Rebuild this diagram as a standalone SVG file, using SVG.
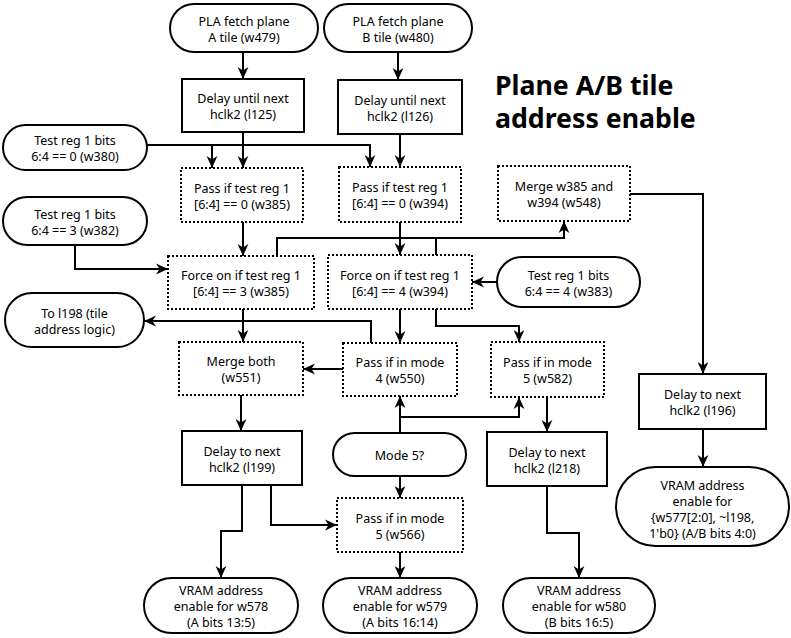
<svg xmlns="http://www.w3.org/2000/svg" width="791" height="638" viewBox="0 0 791 638">
<defs>
<marker id="ah" viewBox="0 0 10 10" refX="10" refY="5" markerWidth="12" markerHeight="12" markerUnits="userSpaceOnUse" orient="auto">
<path d="M0,0.5 L10,5 L0,9.5 L3,5 z" fill="#000"/>
</marker>
<style>
.s{fill:#fff;stroke:#000;stroke-width:2}
.d{fill:#fff;stroke:#000;stroke-width:2;stroke-dasharray:2 2}
.c{fill:none;stroke:#000;stroke-width:2;marker-end:url(#ah)}
.l{fill:none;stroke:#000;stroke-width:2}
text{font-family:"Noto Sans","Open Sans","DejaVu Sans",sans-serif;font-size:12.5px;fill:#000;text-anchor:middle}
.t{font-size:26.7px;font-weight:bold;text-anchor:start}
</style>
</defs>
<rect width="791" height="638" fill="#fff"/>
<text class="t" x="495" y="95">Plane A/B tile</text>
<text class="t" x="495" y="128">address enable</text>

<g id="connectors">
<path class="c" d="M243,52 V79"/>
<path class="c" d="M398,52 V80"/>
<path class="c" d="M147,145 H370 V167"/>
<path class="c" d="M212,145 V168"/>
<path class="c" d="M243,132 V168"/>
<path class="c" d="M400,134 V167"/>
<path class="c" d="M243,222 V256"/>
<path class="c" d="M75,245 V269 H168"/>
<path class="c" d="M400,222 V255"/>
<path class="c" d="M277,256 V238 H564 V221"/>
<path class="l" d="M436,255 V238"/>
<path class="c" d="M497,282 H472"/>
<path class="c" d="M243,309 V342"/>
<path class="c" d="M371,343 V321 H144"/>
<path class="c" d="M400,309 V343"/>
<path class="c" d="M436,309 V326 H519 V342"/>
<path class="c" d="M343,369 H303"/>
<path class="c" d="M400,433 V396"/>
<path class="c" d="M400,417 H519 V397"/>
<path class="c" d="M400,476 V498"/>
<path class="c" d="M241,395 V431"/>
<path class="c" d="M242,485 V531 H221 V578"/>
<path class="c" d="M271,485 V525 H337"/>
<path class="c" d="M400,552 V578"/>
<path class="c" d="M547,397 V432"/>
<path class="c" d="M547,486 V533 H579 V578"/>
<path class="c" d="M630,194 H703 V374"/>
<path class="c" d="M703,429 V467"/>
</g>

<g id="n_plaA"><rect class="s" x="170" y="4" width="148" height="48" rx="24"/><text x="244" y="25.9">PLA fetch plane</text><text x="244" y="41.9">A tile (w479)</text></g>
<g id="n_plaB"><rect class="s" x="324" y="4" width="148" height="48" rx="24"/><text x="398" y="25.9">PLA fetch plane</text><text x="398" y="41.9">B tile (w480)</text></g>
<g id="n_dl125"><rect class="s" x="182" y="79" width="122" height="53"/><text x="243" y="103.4">Delay until next</text><text x="243" y="119.4">hclk2 (l125)</text></g>
<g id="n_dl126"><rect class="s" x="338" y="80" width="124" height="54"/><text x="400" y="104.9">Delay until next</text><text x="400" y="120.9">hclk2 (l126)</text></g>
<g id="n_t380"><rect class="s" x="3" y="125" width="144" height="45" rx="22.5"/><text x="75" y="145.4">Test reg 1 bits</text><text x="75" y="161.4">6:4 == 0 (w380)</text></g>
<g id="n_p385"><rect class="d" x="181" y="168" width="122" height="54"/><text x="242" y="192.9">Pass if test reg 1</text><text x="242" y="208.9">[6:4] == 0 (w385)</text></g>
<g id="n_p394"><rect class="d" x="339" y="167" width="122" height="55"/><text x="400" y="192.4">Pass if test reg 1</text><text x="400" y="208.4">[6:4] == 0 (w394)</text></g>
<g id="n_m548"><rect class="d" x="498" y="166" width="132" height="55"/><text x="564" y="191.4">Merge w385 and</text><text x="564" y="207.4">w394 (w548)</text></g>
<g id="n_t382"><rect class="s" x="3" y="197" width="144" height="48" rx="24"/><text x="75" y="218.9">Test reg 1 bits</text><text x="75" y="234.9">6:4 == 3 (w382)</text></g>
<g id="n_f385"><rect class="d" x="168" y="256" width="146" height="53"/><text x="241" y="280.4">Force on if test reg 1</text><text x="241" y="296.4">[6:4] == 3 (w385)</text></g>
<g id="n_f394"><rect class="d" x="328" y="255" width="144" height="54"/><text x="400" y="279.9">Force on if test reg 1</text><text x="400" y="295.9">[6:4] == 4 (w394)</text></g>
<g id="n_t383"><rect class="s" x="497" y="257" width="143" height="50" rx="25"/><text x="568.5" y="279.9">Test reg 1 bits</text><text x="568.5" y="295.9">6:4 == 4 (w383)</text></g>
<g id="n_l198"><rect class="s" x="5" y="293" width="139" height="54" rx="27"/><text x="74.5" y="317.9">To l198 (tile</text><text x="74.5" y="333.9">address logic)</text></g>
<g id="n_m551"><rect class="d" x="179" y="342" width="124" height="53"/><text x="241" y="366.4">Merge both</text><text x="241" y="382.4">(w551)</text></g>
<g id="n_p550"><rect class="d" x="343" y="343" width="114" height="53"/><text x="400" y="367.4">Pass if in mode</text><text x="400" y="383.4">4 (w550)</text></g>
<g id="n_p582"><rect class="d" x="491" y="342" width="113" height="55"/><text x="547.5" y="367.4">Pass if in mode</text><text x="547.5" y="383.4">5 (w582)</text></g>
<g id="n_dl196"><rect class="s" x="639" y="374" width="127" height="55"/><text x="702.5" y="399.4">Delay to next</text><text x="702.5" y="415.4">hclk2 (l196)</text></g>
<g id="n_dl199"><rect class="s" x="182" y="431" width="120" height="54"/><text x="242" y="455.9">Delay to next</text><text x="242" y="471.9">hclk2 (l199)</text></g>
<g id="n_mode5"><rect class="s" x="333" y="433" width="133" height="43" rx="21.5"/><text x="399.5" y="460.4">Mode 5?</text></g>
<g id="n_dl218"><rect class="s" x="487" y="432" width="120" height="54"/><text x="547" y="456.9">Delay to next</text><text x="547" y="472.9">hclk2 (l218)</text></g>
<g id="n_vfinal"><rect class="s" x="616" y="467" width="173" height="79" rx="39.5"/><text x="702.5" y="490.4">VRAM address</text><text x="702.5" y="506.4">enable for</text><text x="702.5" y="522.4">{w577[2:0], ~l198,</text><text x="702.5" y="538.4">1'b0} (A/B bits 4:0)</text></g>
<g id="n_p566"><rect class="d" x="337" y="498" width="126" height="54"/><text x="400" y="522.9">Pass if in mode</text><text x="400" y="538.9">5 (w566)</text></g>
<g id="n_v578"><rect class="s" x="144" y="578" width="154" height="55" rx="27.5"/><text x="221" y="595.4">VRAM address</text><text x="221" y="611.4">enable for w578</text><text x="221" y="627.4">(A bits 13:5)</text></g>
<g id="n_v579"><rect class="s" x="323" y="578" width="154" height="55" rx="27.5"/><text x="400" y="595.4">VRAM address</text><text x="400" y="611.4">enable for w579</text><text x="400" y="627.4">(A bits 16:14)</text></g>
<g id="n_v580"><rect class="s" x="503" y="578" width="152" height="55" rx="27.5"/><text x="579" y="595.4">VRAM address</text><text x="579" y="611.4">enable for w580</text><text x="579" y="627.4">(B bits 16:5)</text></g>
</svg>
